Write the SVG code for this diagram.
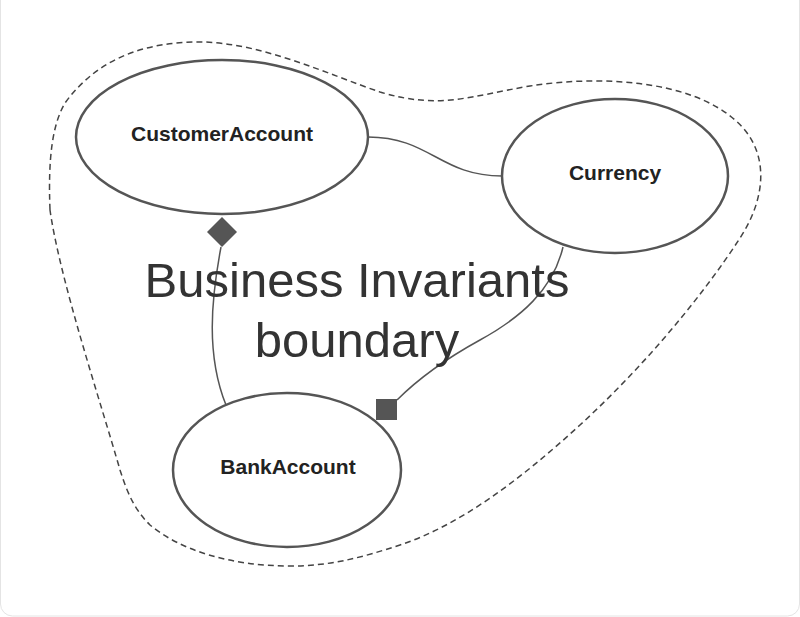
<svg xmlns="http://www.w3.org/2000/svg" width="800" height="617" viewBox="0 0 800 617">
<style>
.node{fill:#fff;stroke:#555;stroke-width:2.5}
.lbl{font-family:"Liberation Sans",Arial,sans-serif;font-weight:bold;font-size:21px;fill:#222;text-anchor:middle}
.conn{fill:none;stroke:#555;stroke-width:1.5}
.big{font-family:"Liberation Sans",Arial,sans-serif;font-size:49px;fill:#333;text-anchor:middle}
</style>
<rect x="0" y="0" width="800" height="617" fill="#fff"/>
<rect x="0.5" y="-20" width="799" height="636" rx="12" fill="none" stroke="#e4e4e4" stroke-width="1"/>
<path id="boundary" d="M50,210 C48,160 52,125 65,103 C100,55 150,42 200,42 C260,42 330,75 380,92 C440,110 470,96 530,86 C600,75 690,80 735,120 C772,152 765,200 740,238 C700,300 640,370 580,425 C520,480 460,525 400,545 C360,558 330,566 290,566 C230,566 180,550 150,525 C135,510 128,495 120,470 C100,400 60,280 50,210 Z" fill="none" stroke="#444" stroke-width="1.5" stroke-dasharray="6 4"/>
<g id="connectors">
<path class="conn" d="M368,137 C430,137 440,176 502,176"/>
<path class="conn" d="M221,247 C211,300 206,355 226,405"/>
<path class="conn" d="M563,247 C553,290 520,318 480,340 C440,362 415,382 397,400"/>
<polygon points="222,217 237,232 222,247 207,232" fill="#555"/>
<rect x="376" y="399" width="21" height="21" fill="#555"/>
</g>
<g id="customerAccount">
<ellipse class="node" cx="222" cy="137" rx="146" ry="77"/>
<text class="lbl" x="222" y="141">CustomerAccount</text>
</g>
<g id="currency">
<ellipse class="node" cx="615" cy="176" rx="113" ry="77"/>
<text class="lbl" x="615" y="180">Currency</text>
</g>
<g id="bankAccount">
<ellipse class="node" cx="287" cy="470" rx="114" ry="77"/>
<text class="lbl" x="288" y="474">BankAccount</text>
</g>
<g id="title">
<text class="big" x="357" y="297">Business Invariants</text>
<text class="big" x="357" y="357">boundary</text>
</g>
</svg>
